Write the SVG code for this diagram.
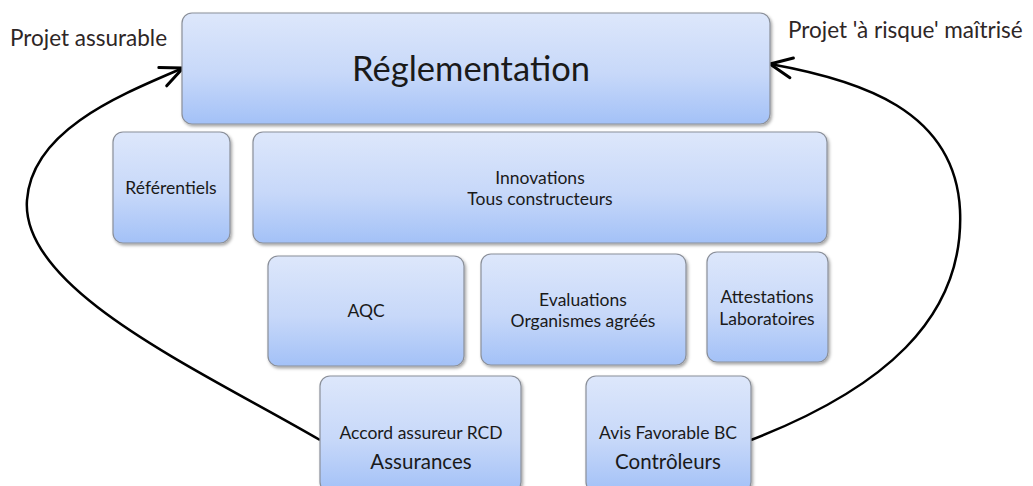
<svg xmlns="http://www.w3.org/2000/svg" width="1033" height="486" viewBox="0 0 1033 486">
<defs>
<linearGradient id="g" x1="0" y1="0" x2="0" y2="1">
<stop offset="0" stop-color="#dde7fb"/>
<stop offset="0.55" stop-color="#c7d8f9"/>
<stop offset="1" stop-color="#a3c1f7"/>
</linearGradient>
<filter id="sh" x="-10%" y="-10%" width="125%" height="130%">
<feDropShadow dx="1.5" dy="2" stdDeviation="1.5" flood-color="#000" flood-opacity="0.35"/>
</filter>
<marker id="ah" markerUnits="userSpaceOnUse" markerWidth="34" markerHeight="34" viewBox="0 0 34 34" refX="28" refY="17" orient="auto">
<path d="M6 7 L28 17 L6 27" fill="none" stroke="#000" stroke-width="3" stroke-linecap="round" stroke-linejoin="round"/>
</marker>
</defs>
<style>
.box{fill:url(#g);stroke:#8a8f99;stroke-width:1.2;filter:url(#sh)}
.t{font-family:Lato,"Open Sans","Liberation Sans",sans-serif;fill:#1a1a1a;text-anchor:middle}
.s{font-size:17.5px}
.m{font-size:20.5px}
.lbl{font-family:Lato,"Open Sans","Liberation Sans",sans-serif;fill:#2e2626;font-size:22.5px}
.c{fill:none;stroke:#000;stroke-width:2.5}
</style>
<g id="connectors">
<path class="c" d="M320 440 C200 370 20 290 27 200 C32 130 120 95 183 68" marker-end="url(#ah)"/>
<path class="c" d="M751 440 C880 390 965 320 960 210 C955 110 860 80 770 64" marker-end="url(#ah)"/>
</g>
<g id="reglementation">
<rect class="box" x="182" y="13" width="588" height="111" rx="10"/>
<text class="t" x="471" y="81" font-size="34.5">Réglementation</text>
</g>
<g id="referentiels">
<rect class="box" x="113" y="132" width="117" height="111" rx="10"/>
<text class="t s" x="171" y="194">Référentiels</text>
</g>
<g id="innovations">
<rect class="box" x="253" y="132" width="574" height="111" rx="10"/>
<text class="t s" x="540" y="184">Innovations</text>
<text class="t s" x="540" y="205">Tous constructeurs</text>
</g>
<g id="aqc">
<rect class="box" x="268" y="256" width="196" height="110" rx="10"/>
<text class="t s" x="366" y="317">AQC</text>
</g>
<g id="evaluations">
<rect class="box" x="481" y="254" width="205" height="111" rx="10"/>
<text class="t s" x="583" y="306">Evaluations</text>
<text class="t s" x="583" y="327">Organismes agréés</text>
</g>
<g id="attestations">
<rect class="box" x="707" y="252" width="121" height="110" rx="10"/>
<text class="t s" x="767" y="303">Attestations</text>
<text class="t s" x="767" y="325">Laboratoires</text>
</g>
<g id="assurances">
<rect class="box" x="320" y="376" width="201" height="116" rx="10"/>
<text class="t s" x="421" y="439">Accord assureur RCD</text>
<text class="t m" x="421" y="469">Assurances</text>
</g>
<g id="controleurs">
<rect class="box" x="586" y="376" width="165" height="116" rx="10"/>
<text class="t s" x="668" y="439">Avis Favorable BC</text>
<text class="t m" x="668" y="469">Contrôleurs</text>
</g>
<text class="lbl" x="10" y="46">Projet assurable</text>
<text class="lbl" x="788" y="38">Projet 'à risque' maîtrisé</text>
</svg>
